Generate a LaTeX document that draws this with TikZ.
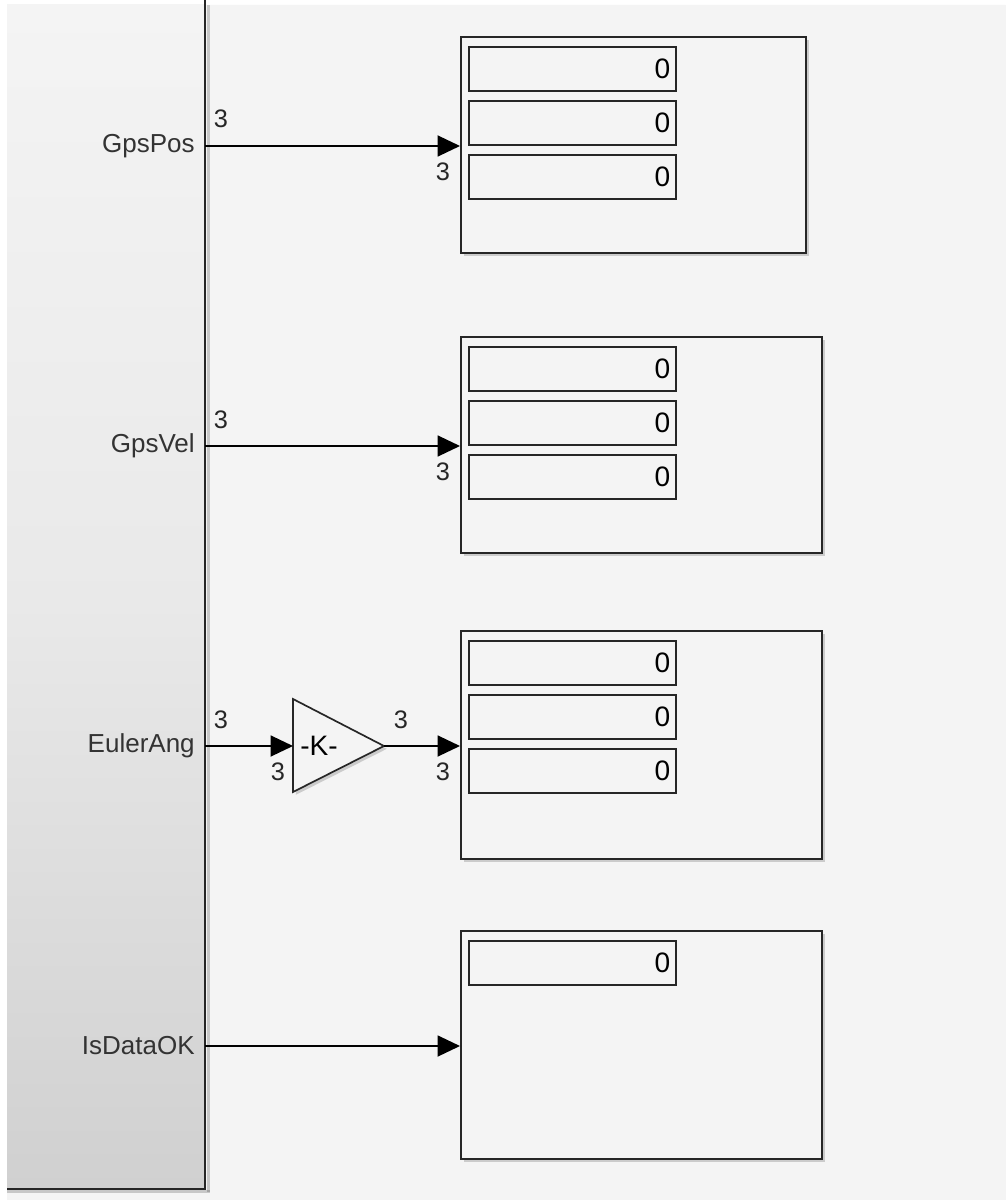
\documentclass[tikz,border=0pt]{standalone}
\usepackage{fontspec}
\setmainfont{Liberation Sans}
\usetikzlibrary{arrows.meta,shadows}
\definecolor{canvas}{HTML}{F4F4F4}
\definecolor{blockbot}{HTML}{D0D0D0}
\definecolor{edge}{HTML}{262626}

\tikzset{
  sig/.style={line width=1.1pt, black, -{Triangle[length=16pt,width=15pt]}},
  dimlbl/.style={font=\fontsize{18}{18}\selectfont, inner sep=0pt, text=black!85},
  portlbl/.style={font=\fontsize{18.5}{18.5}\selectfont, anchor=east, inner sep=0pt, text=black!80},
  disp/.style={draw=edge, line width=1.5pt, fill=canvas, anchor=north west, inner sep=0pt,
    drop shadow={opacity=.35, shadow xshift=2pt, shadow yshift=-2pt}},
  cell/.style={draw=edge, line width=1.1pt, anchor=north west, inner ysep=0pt, inner xsep=4pt,
    minimum width=207*0.025cm, minimum height=44*0.025cm, text width=207*0.025cm-8pt,
    align=right, font=\fontsize{20}{20}\selectfont}
}

\begin{document}
\begin{tikzpicture}[x=0.025cm,y=-0.025cm]
    \useasboundingbox (0,0) rectangle (1005,1200);
    \fill[white] (0,0) rectangle (1005,1200);
    \fill[canvas, rounded corners=6pt] (7,5) rectangle (1030,1230); %canvas

    % bus selector block on the left
    \shade[top color=canvas, bottom color=blockbot, middle color=canvas!70!blockbot] (7,5) rectangle (205,1189);
    \fill[black, opacity=.18] (207,5) rectangle (210,1192); \fill[black, opacity=.18] (7,1190) rectangle (210,1193);
    \draw[edge, line width=2pt] (205,0) -- (205,1189) -- (7,1189);

    \node[portlbl] (lPos) at (195,146) {GpsPos};
    \node[portlbl] (lVel) at (195,446) {GpsVel};
    \node[portlbl] (lEul) at (195,746) {EulerAng};
    \node[portlbl] (lOK) at (195,1046) {IsDataOK};
    \coordinate (oPos) at (205,146); \coordinate (oVel) at (205,446);
    \coordinate (oEul) at (205,746); \coordinate (oOK) at (205,1046);

    % display 1
    \node[disp, minimum width=345*0.025cm, minimum height=216*0.025cm] (dPos) at (460,36) {};
    \node[cell] (cPos1) at (468,46) {0};
    \node[cell] (cPos2) at (468,100) {0};
    \node[cell] (cPos3) at (468,154) {0};

    % display 2
    \node[disp, minimum width=361*0.025cm, minimum height=216*0.025cm] (dVel) at (460,336) {};
    \node[cell] (cVel1) at (468,346) {0};
    \node[cell] (cVel2) at (468,400) {0};
    \node[cell] (cVel3) at (468,454) {0};

    % display 3
    \node[disp, minimum width=361*0.025cm, minimum height=228*0.025cm] (dEul) at (460,630) {};
    \node[cell] (cEul1) at (468,640) {0};
    \node[cell] (cEul2) at (468,694) {0};
    \node[cell] (cEul3) at (468,748) {0};

    % display 4
    \node[disp, minimum width=361*0.025cm, minimum height=228*0.025cm] (dOK) at (460,930) {};
    \node[cell] (cOK1) at (468,940) {0};

    % gain
    \coordinate (gTop) at (293,699); \coordinate (gOut) at (384,746);
    \coordinate (gBot) at (293,792); \coordinate (gIn) at (293,746);
    \filldraw[fill=canvas, draw=edge, line width=1.2pt, line join=miter,
      drop shadow={opacity=.35, shadow xshift=2pt, shadow yshift=-2pt}] (gTop) -- (gOut) -- (gBot) -- cycle;
    \node[font=\fontsize{20}{20}\selectfont, inner sep=0pt] (gK) at (319,746) {-K-};

    % signals
    \draw[sig] (oPos) -- (oPos -| dPos.west);
    \draw[sig] (oVel) -- (oVel -| dVel.west);
    \draw[sig] (oEul) -- (gIn);
    \draw[sig] (gOut) -- (gOut -| dEul.west);
    \draw[sig] (oOK) -- (oOK -| dOK.west);

    % signal widths
    \node[dimlbl] (wPosA) at (221,119) {3}; \node[dimlbl] (wPosB) at (443,172) {3};
    \node[dimlbl] (wVelA) at (221,420) {3}; \node[dimlbl] (wVelB) at (443,472) {3};
    \node[dimlbl] (wEulA) at (221,720) {3}; \node[dimlbl] (wEulB) at (278,772) {3};
    \node[dimlbl] (wKA) at (401,720) {3}; \node[dimlbl] (wKB) at (443,772) {3};
\end{tikzpicture}
\end{document}
